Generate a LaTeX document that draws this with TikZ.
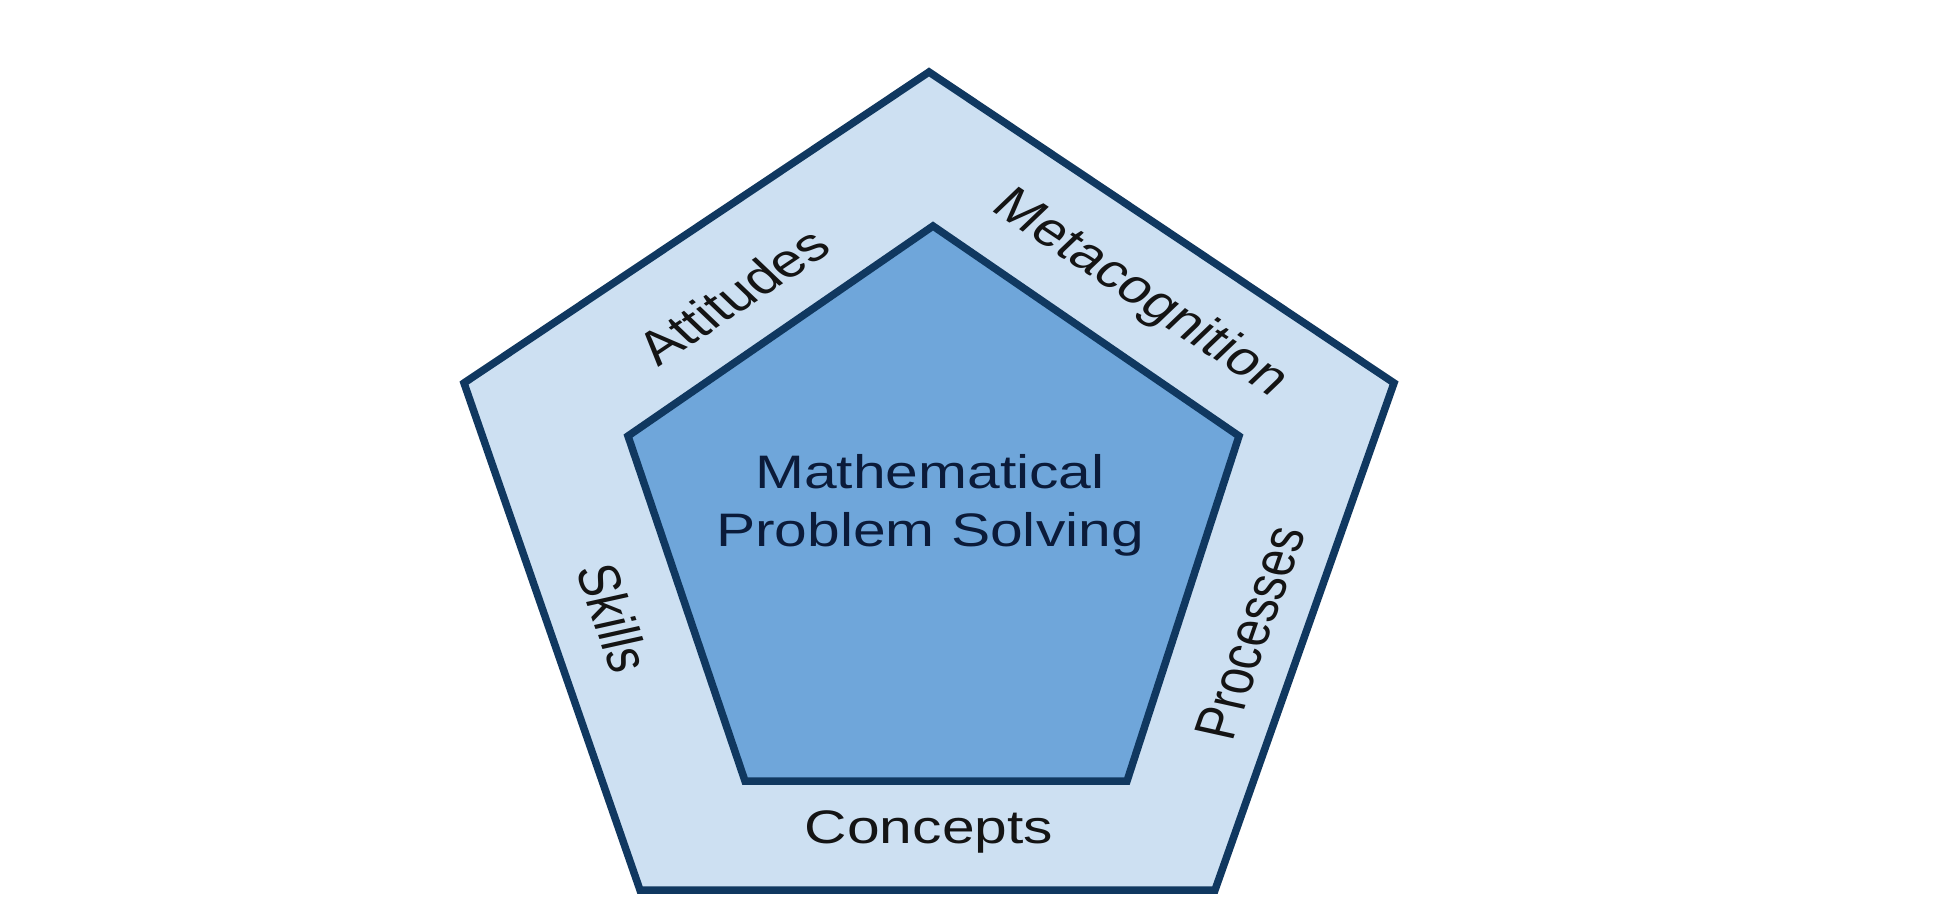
\documentclass[tikz,border=0pt]{standalone}
\usepackage{fontspec}
\setmainfont{Liberation Sans}
\definecolor{edgecol}{HTML}{103860}
\definecolor{outerfill}{HTML}{CDE0F2}
\definecolor{innerfill}{HTML}{6FA6DA}
\definecolor{txtcol}{HTML}{141414}
\definecolor{maintxt}{HTML}{0B1B3A}
\newcommand{\stretchlabel}[6]{\begin{scope}[shift={(#2,#3)},xscale=1.25]\node[#6,rotate=#4,transform shape] (#1) at (0,0) {#5};\end{scope}}
\begin{document}
\begin{tikzpicture}[x=1pt,y=-1pt,
  lbl/.style={font=\fontsize{47}{52}\selectfont, text=txtcol, inner sep=0pt},
  mainlbl/.style={font=\fontsize{47}{58}\selectfont, text=maintxt, inner sep=0pt, align=center},
  pent/.style={draw=edgecol, line width=7.5pt, line join=miter}]
\useasboundingbox (0,0) rectangle (1938,907);
\fill[white] (0,0) rectangle (1938,907);
% outer pentagon
\coordinate (oT) at (929,72);
\coordinate (oL) at (464,383);
\coordinate (oR) at (1394,383);
\coordinate (oBL) at (640,890);
\coordinate (oBR) at (1215,890);
% inner pentagon
\coordinate (iT) at (933,226);
\coordinate (iL) at (628,436);
\coordinate (iR) at (1239,436);
\coordinate (iBL) at (745,781);
\coordinate (iBR) at (1127,781);
\draw[pent, fill=outerfill] (oT) -- (oR) -- (oBR) -- (oBL) -- (oL) -- cycle;
\draw[pent, fill=innerfill] (iT) -- (iR) -- (iBR) -- (iBL) -- (iL) -- cycle;
\stretchlabel{att}{733}{296}{39.9}{Attitudes}{lbl}
\stretchlabel{meta}{1140}{294}{-39.9}{Metacognition}{lbl}
\stretchlabel{skl}{614}{618}{-74.5}{Skills}{lbl}
\stretchlabel{proc}{1250}{633}{74.5}{Processes}{lbl}
\stretchlabel{conc}{929}{832}{0}{Concepts}{lbl}
\stretchlabel{mps}{930}{505}{0}{Mathematical\\Problem Solving}{mainlbl}
\end{tikzpicture}
\end{document}
